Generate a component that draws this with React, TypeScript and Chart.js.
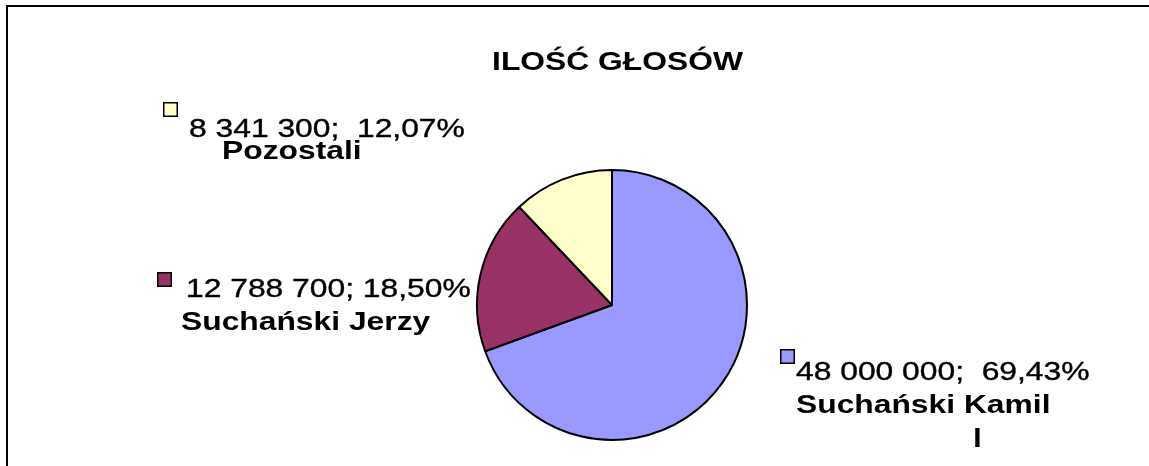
import React, { useEffect, useRef } from "react";
import { Chart, registerables } from "chart.js";

Chart.register(...registerables);

// ---- data ----
const chartTitle = "ILOŚĆ GŁOSÓW";
const categories = ["Suchański Kamil", "Suchański Jerzy", "Pozostali"];
const votes = [48000000, 12788700, 8341300];
const sliceColors = ["#9999FF", "#993366", "#FFFFCC"];
const valueSeparators = [";  ", "; ", ";  "];
const extraLines = [["l"], [], []];

// ---- layout (positions of label pieces, not data) ----
const SX = 1.2; // horizontal text stretch seen in the reference
const FONT_PX = 26.5;
const labelLayout = [
  { key: [780, 349], num: [796, 380], name: [796, 413], extra: [[973, 447]] },
  { key: [157, 272], num: [186, 297], name: [181, 330], extra: [] },
  { key: [163, 102], num: [189, 137], name: [222, 159], extra: [] },
];

function fmtInt(n: number): string {
  const s = Math.round(n).toString();
  return s.replace(/\B(?=(\d{3})+(?!\d))/g, " ");
}
function fmtPct(p: number): string {
  return p.toFixed(2).replace(".", ",") + "%";
}

function drawText(
  ctx: CanvasRenderingContext2D,
  text: string,
  x: number,
  y: number,
  bold: boolean,
  align: CanvasTextAlign = "left"
) {
  ctx.save();
  ctx.font = `${bold ? "bold " : ""}${FONT_PX}px "Liberation Sans", Arial, sans-serif`;
  ctx.fillStyle = "#000000";
  ctx.strokeStyle = "#000000";
  ctx.lineWidth = 0.4;
  ctx.lineJoin = "round";
  ctx.textBaseline = "alphabetic";
  ctx.textAlign = align;
  ctx.translate(x, y);
  ctx.scale(SX, 1);
  ctx.fillText(text, 0, 0);
  if (!bold) ctx.strokeText(text, 0, 0);
  ctx.restore();
}

const framePlugin = {
  id: "frameAndLabels",
  beforeDraw(chart: any) {
    const ctx: CanvasRenderingContext2D = chart.ctx;
    ctx.save();
    ctx.fillStyle = "#ffffff";
    ctx.fillRect(0, 0, chart.width, chart.height);
    ctx.strokeStyle = "#000000";
    ctx.lineWidth = 2;
    ctx.strokeRect(7, 6, chart.width + 50, chart.height + 50);
    ctx.restore();
  },
  afterDraw(chart: any) {
    const ctx: CanvasRenderingContext2D = chart.ctx;
    drawText(ctx, chartTitle, 617.5, 70, true, "center");
    const data: number[] = chart.data.datasets[0].data;
    const total = data.reduce((a, b) => a + b, 0);
    data.forEach((v, i) => {
      const L = labelLayout[i];
      ctx.save();
      ctx.fillStyle = sliceColors[i];
      ctx.strokeStyle = "#000000";
      ctx.lineWidth = 1.5;
      ctx.fillRect(L.key[0], L.key[1], 15, 15);
      ctx.strokeRect(L.key[0] + 0.75, L.key[1] + 0.75, 13.5, 13.5);
      ctx.restore();
      const numText = fmtInt(v) + valueSeparators[i] + fmtPct((v / total) * 100);
      drawText(ctx, numText, L.num[0], L.num[1], false);
      drawText(ctx, chart.data.labels[i], L.name[0], L.name[1], true);
      extraLines[i].forEach((t, j) => {
        const p = L.extra[j];
        if (p) drawText(ctx, t, p[0], p[1], true);
      });
    });
  },
};

export default function App() {
  const ref = useRef<HTMLCanvasElement | null>(null);
  useEffect(() => {
    if (!ref.current) return;
    const chart = new Chart(ref.current, {
      type: "pie",
      data: {
        labels: categories,
        datasets: [
          {
            data: votes,
            backgroundColor: sliceColors,
            borderColor: "#000000",
            borderWidth: 2,
          },
        ],
      },
      options: {
        responsive: false,
        animation: false,
        layout: { padding: { left: 476, right: 401, top: 169, bottom: 25 } },
        plugins: {
          legend: { display: false },
          tooltip: { enabled: false },
          title: { display: false },
        },
      },
      plugins: [framePlugin],
    });
    return () => chart.destroy();
  }, []);
  return (
    <div style={{ position: "fixed", left: 0, top: 0, width: 1149, height: 466, background: "#fff" }}>
      <canvas ref={ref} width={1149} height={466} style={{ width: 1149, height: 466, display: "block" }} />
    </div>
  );
}
